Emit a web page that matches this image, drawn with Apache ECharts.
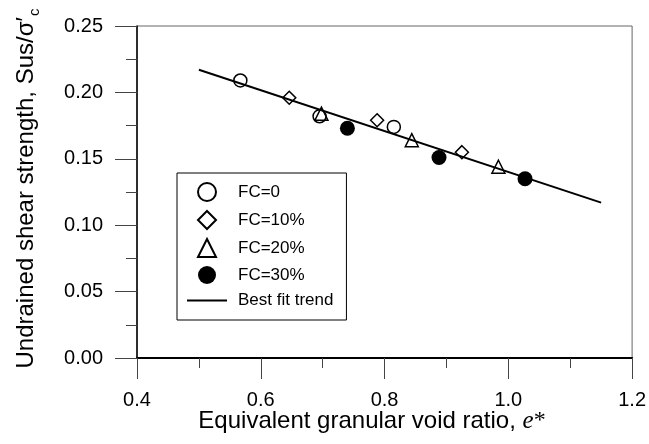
<!DOCTYPE html>
<html lang="en">
  <head>
    <meta charset="UTF-8" />
    <title>Undrained shear strength vs equivalent granular void ratio</title>
    <script src="https://cdn.jsdelivr.net/npm/echarts@6/dist/echarts.min.js"></script>
    <style>
      html, body { margin: 0; padding: 0; background: #fff; }
    </style>
  </head>

  <body>
    <div id="main" style="width: 649px; height: 444px"></div>

    <script type="text/javascript">
      // data: [e*, Sus/σ'c]
      const fc0 = [[0.567, 0.209], [0.695, 0.182], [0.815, 0.174]];
      const fc10 = [[0.646, 0.196], [0.788, 0.179], [0.925, 0.155]];
      const fc20 = [[0.698, 0.184], [0.844, 0.164], [0.984, 0.144]];
      const fc30 = [[0.740, 0.173], [0.888, 0.151], [1.027, 0.135]];
      const trend = [[0.5, 0.217], [1.15, 0.117]];

      const seriesNames = ["FC=0", "FC=10%", "FC=20%", "FC=30%", "Best fit trend"];
      const xTicks = [0.4, 0.6, 0.8, 1.0, 1.2];
      const yTicks = [0, 0.05, 0.1, 0.15, 0.2, 0.25];

      const font = "Arial, 'Liberation Sans', sans-serif";
      const serif = "'Liberation Serif', 'DejaVu Serif', serif";
      const hollow = { color: "rgba(0,0,0,0)", borderColor: "#000", borderWidth: 1.5, opacity: 1 };

      // built-in diamond/triangle stretch to the legend item box, so use paths there
      const diamondIcon = "path://M0,-1L1,0L0,1L-1,0Z";
      const triangleIcon = "path://M0,-1L1,1L-1,1Z";
      const lineIcon = "path://M0,0L40,0L40,2L0,2Z";
      const legendHollow = { borderWidth: 2 };

      let myChart = echarts.init(document.getElementById("main"));

      let options = {
        animation: false,
        backgroundColor: "#fff",
        grid: {
          left: 137, top: 26, right: 16, bottom: 86,
          show: true, borderColor: "#666", borderWidth: 1,
        },
        xAxis: {
          type: "value",
          min: xTicks[0], max: xTicks[xTicks.length - 1], interval: 0.2,
          axisLine: { lineStyle: { color: "#000", width: 2 } },
          axisTick: { inside: false, length: 21, lineStyle: { color: "#444" } },
          minorTick: { show: true, splitNumber: 2, length: 10, lineStyle: { color: "#444" } },
          splitLine: { show: false },
          axisLabel: {
            margin: 32, fontSize: 20, color: "#000", fontFamily: font,
            formatter: (v) => v.toFixed(1),
          },
        },
        yAxis: {
          type: "value",
          min: yTicks[0], max: yTicks[yTicks.length - 1], interval: 0.05,
          axisLine: { show: true, lineStyle: { color: "#000", width: 1.5 } },
          axisTick: { show: true, inside: false, length: 22, lineStyle: { color: "#444" } },
          minorTick: { show: true, splitNumber: 2, length: 11, lineStyle: { color: "#444" } },
          splitLine: { show: false },
          axisLabel: {
            margin: 34, fontSize: 20, color: "#000", fontFamily: font,
            formatter: (v) => v.toFixed(2),
          },
        },
        legend: {
          orient: "vertical",
          left: 177, top: 173,
          padding: [9, 13, 11, 10],
          itemGap: 8, itemWidth: 40, itemHeight: 18,
          symbolKeepAspect: true,
          borderColor: "#000", borderWidth: 1,
          backgroundColor: "#fff",
          selectedMode: false,
          textStyle: { fontSize: 17, color: "#000", fontFamily: font, padding: [0, 0, 0, 6] },
          data: [
            { name: seriesNames[0], itemStyle: legendHollow },
            { name: seriesNames[1], icon: diamondIcon, itemStyle: legendHollow },
            { name: seriesNames[2], icon: triangleIcon, itemStyle: legendHollow },
            seriesNames[3],
            { name: seriesNames[4], icon: lineIcon },
          ],
        },
        graphic: [
          {
            type: "group",
            x: 26, y: 17, rotation: Math.PI / 2,
            children: [
              {
                type: "text", x: 0, y: 0,
                style: {
                  text: "Undrained shear strength, Sus/σ′",
                  font: "24px " + font, fill: "#000",
                  align: "right", verticalAlign: "middle",
                },
              },
              {
                type: "text", x: 1, y: 9,
                style: {
                  text: "c", font: "15px " + font, fill: "#000",
                  align: "left", verticalAlign: "middle",
                },
              },
            ],
          },
          {
            type: "text",
            x: 372, y: 421,
            style: {
              text: "{a|Equivalent granular void ratio, }{e|e}{b|*}",
              align: "center", verticalAlign: "middle",
              rich: {
                a: { fontSize: 24, fontFamily: font, fill: "#000" },
                e: { fontSize: 25, fontFamily: serif, fontStyle: "italic", fill: "#000" },
                b: { fontSize: 24, fontFamily: serif, fill: "#000" },
              },
            },
          },
        ],
        series: [
          { name: seriesNames[0], type: "scatter", symbol: "circle", symbolSize: 13, itemStyle: hollow, data: fc0, z: 3 },
          { name: seriesNames[1], type: "scatter", symbol: "diamond", symbolSize: 13, itemStyle: hollow, data: fc10, z: 3 },
          { name: seriesNames[2], type: "scatter", symbol: "triangle", symbolSize: 13, itemStyle: hollow, data: fc20, z: 3 },
          { name: seriesNames[3], type: "scatter", symbol: "circle", symbolSize: 15, itemStyle: { color: "#000", opacity: 1 }, data: fc30, z: 3 },
          {
            name: seriesNames[4], type: "line", data: trend, symbol: "none",
            lineStyle: { color: "#000", width: 2 }, itemStyle: { color: "#000" }, z: 2,
          },
        ],
      };

      myChart.setOption(options);
    </script>
  </body>
</html>
